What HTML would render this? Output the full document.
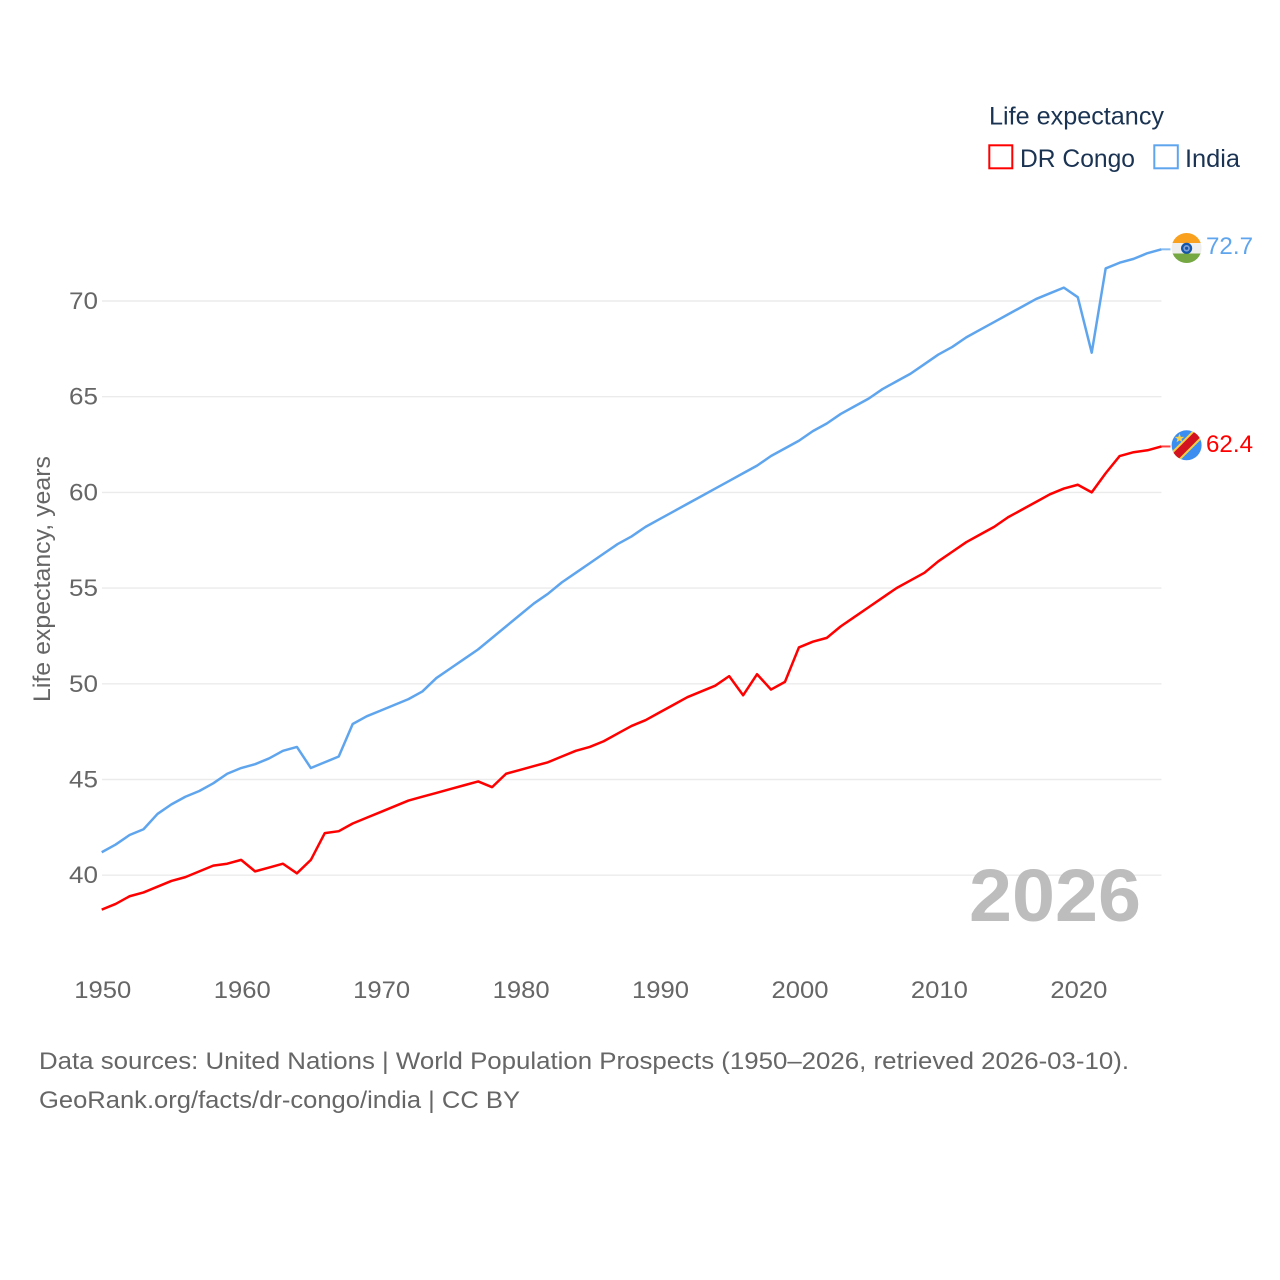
<!DOCTYPE html>
<html>
<head>
<meta charset="utf-8">
<style>
html,body{margin:0;padding:0;background:#fff;}
svg{display:block;}
text{font-family:"Liberation Sans",sans-serif;}
</style>
</head>
<body>
<svg id="chart" width="1280" height="1280" viewBox="0 0 1280 1280" xmlns="http://www.w3.org/2000/svg">
  <rect width="1280" height="1280" fill="#ffffff"/>
  <g id="grid"></g>
  <g id="yticks"></g>
  <g id="xticks"></g>
  <text transform="translate(50,702) rotate(-90)" font-size="24.5" fill="#666666" textLength="246" lengthAdjust="spacingAndGlyphs">Life expectancy, years</text>
  <text x="969" y="921" font-size="74" font-weight="bold" fill="#bdbdbd" textLength="172" lengthAdjust="spacingAndGlyphs">2026</text>
  <g id="series"></g>

  <defs>
    <clipPath id="flag-clip-in"><circle cx="1186.6" cy="248" r="15"/></clipPath>
    <clipPath id="flag-clip-cd"><circle cx="1186.6" cy="445.3" r="15"/></clipPath>
  </defs>
  <g clip-path="url(#flag-clip-in)">
    <rect x="1171" y="233" width="31" height="10" fill="#f9a11f"/>
    <rect x="1171" y="243" width="31" height="10.5" fill="#eeeeee"/>
    <rect x="1171" y="253.5" width="31" height="10" fill="#75a843"/>
    <circle cx="1186.6" cy="248.3" r="5.6" fill="#1556a8"/>
    <circle cx="1186.6" cy="248.3" r="3.3" fill="#7d9fd6"/>
    <circle cx="1186.6" cy="248.3" r="1.6" fill="#1556a8"/>
  </g>
  <g clip-path="url(#flag-clip-cd)">
    <rect x="1171" y="430" width="31" height="31" fill="#3b8ef0"/>
    <line x1="1168.6" y1="463.3" x2="1204.6" y2="427.3" stroke="#f7d046" stroke-width="12"/>
    <line x1="1168.6" y1="463.3" x2="1204.6" y2="427.3" stroke="#d3131f" stroke-width="8"/>
    <polygon points="1179.5,433.5 1180.8,436.9 1184.3,436.9 1181.5,439 1182.5,442.3 1179.5,440.4 1176.5,442.3 1177.5,439 1174.7,436.9 1178.2,436.9" fill="#f7d046"/>
  </g>
  <text id="label-india" x="1206" y="254" font-size="24.5" fill="#5fa5ee" textLength="47" lengthAdjust="spacingAndGlyphs">72.7</text>
  <text id="label-congo" x="1206" y="452" font-size="24.5" fill="#ff0000" textLength="47" lengthAdjust="spacingAndGlyphs">62.4</text>

  <g>
    <text x="989" y="124.5" font-size="25" fill="#1a3352" textLength="175" lengthAdjust="spacingAndGlyphs">Life expectancy</text>
    <rect x="989.3" y="145.3" width="23" height="23" fill="none" stroke="#ff0000" stroke-width="2"/>
    <text x="1020" y="167" font-size="25" fill="#1a3352" textLength="115" lengthAdjust="spacingAndGlyphs">DR Congo</text>
    <rect x="1154.3" y="145.3" width="23.5" height="23" fill="none" stroke="#5fa5ee" stroke-width="2"/>
    <text x="1185" y="167" font-size="25" fill="#1a3352" textLength="55" lengthAdjust="spacingAndGlyphs">India</text>
  </g>

  <text x="39" y="1069" font-size="24.5" fill="#666666" textLength="1090" lengthAdjust="spacingAndGlyphs">Data sources: United Nations | World Population Prospects (1950–2026, retrieved 2026-03-10).</text>
  <text x="39" y="1108" font-size="24.5" fill="#666666" textLength="481" lengthAdjust="spacingAndGlyphs">GeoRank.org/facts/dr-congo/india | CC BY</text>
</svg>
<script>
const startYear = 1950;
const yTickValues = [40, 45, 50, 55, 60, 65, 70];
const xTickValues = [1950, 1960, 1970, 1980, 1990, 2000, 2010, 2020];
const indiaValues = [
  41.2, 41.6, 42.1, 42.4, 43.2, 43.7, 44.1, 44.4, 44.8, 45.3,
  45.6, 45.8, 46.1, 46.5, 46.7, 45.6, 45.9, 46.2, 47.9, 48.3,
  48.6, 48.9, 49.2, 49.6, 50.3, 50.8, 51.3, 51.8, 52.4, 53.0,
  53.6, 54.2, 54.7, 55.3, 55.8, 56.3, 56.8, 57.3, 57.7, 58.2,
  58.6, 59.0, 59.4, 59.8, 60.2, 60.6, 61.0, 61.4, 61.9, 62.3,
  62.7, 63.2, 63.6, 64.1, 64.5, 64.9, 65.4, 65.8, 66.2, 66.7,
  67.2, 67.6, 68.1, 68.5, 68.9, 69.3, 69.7, 70.1, 70.4, 70.7,
  70.2, 67.3, 71.7, 72.0, 72.2, 72.5, 72.7
];
const congoValues = [
  38.2, 38.5, 38.9, 39.1, 39.4, 39.7, 39.9, 40.2, 40.5, 40.6,
  40.8, 40.2, 40.4, 40.6, 40.1, 40.8, 42.2, 42.3, 42.7, 43.0,
  43.3, 43.6, 43.9, 44.1, 44.3, 44.5, 44.7, 44.9, 44.6, 45.3,
  45.5, 45.7, 45.9, 46.2, 46.5, 46.7, 47.0, 47.4, 47.8, 48.1,
  48.5, 48.9, 49.3, 49.6, 49.9, 50.4, 49.4, 50.5, 49.7, 50.1,
  51.9, 52.2, 52.4, 53.0, 53.5, 54.0, 54.5, 55.0, 55.4, 55.8,
  56.4, 56.9, 57.4, 57.8, 58.2, 58.7, 59.1, 59.5, 59.9, 60.2,
  60.4, 60.0, 61.0, 61.9, 62.1, 62.2, 62.4
];

const NS = 'http://www.w3.org/2000/svg';
function xScale(year) { return 101.7 + (year - 1950) * 13.944; }
function yScale(value) { return 875.2 - (value - 40) * 19.14; }

const gridGroup = document.getElementById('grid');
const yTickGroup = document.getElementById('yticks');
const xTickGroup = document.getElementById('xticks');
const seriesGroup = document.getElementById('series');

yTickValues.forEach(function (v) {
  const line = document.createElementNS(NS, 'line');
  
  
  line.setAttribute('x1', 102);
  line.setAttribute('x2', xScale(2026));
  line.setAttribute('y1', yScale(v));
  line.setAttribute('y2', yScale(v));
  line.setAttribute('stroke', '#ebebeb');
  line.setAttribute('stroke-width', '1.4');
  gridGroup.appendChild(line);

  const label = document.createElementNS(NS, 'text');
  
  
  label.setAttribute('x', 69);
  label.setAttribute('y', yScale(v) + 8);
  label.setAttribute('font-size', '24.5');
  label.setAttribute('fill', '#666666');
  label.setAttribute('textLength', '29');
  label.setAttribute('lengthAdjust', 'spacingAndGlyphs');
  label.textContent = String(v);
  yTickGroup.appendChild(label);
});

xTickValues.forEach(function (y) {
  const label = document.createElementNS(NS, 'text');
  
  
  label.setAttribute('x', xScale(y) - 27.4);
  label.setAttribute('y', 998);
  label.setAttribute('font-size', '24.5');
  label.setAttribute('fill', '#666666');
  label.setAttribute('textLength', '57');
  label.setAttribute('lengthAdjust', 'spacingAndGlyphs');
  label.textContent = String(y);
  xTickGroup.appendChild(label);
});

function drawSeries(values, color, name) {
  const line = document.createElementNS(NS, 'polyline');
  
  
  const points = values.map(function (v, i) {
    return xScale(startYear + i).toFixed(2) + ',' + yScale(v).toFixed(2);
  });
  line.setAttribute('points', points.join(' '));
  line.setAttribute('fill', 'none');
  line.setAttribute('stroke', color);
  line.setAttribute('stroke-width', '2.5');
  line.setAttribute('stroke-linejoin', 'round');
  seriesGroup.appendChild(line);

  const last = values[values.length - 1];
  const tail = document.createElementNS(NS, 'line');
  
  
  tail.setAttribute('x1', xScale(2026));
  tail.setAttribute('x2', xScale(2026) + 9);
  tail.setAttribute('y1', yScale(last));
  tail.setAttribute('y2', yScale(last));
  tail.setAttribute('stroke', color);
  tail.setAttribute('stroke-opacity', '0.75');
  tail.setAttribute('stroke-width', '2');
  seriesGroup.appendChild(tail);
}
drawSeries(indiaValues, '#5fa5ee', 'india');
drawSeries(congoValues, '#ff0000', 'dr-congo');
</script>
</body>
</html>
